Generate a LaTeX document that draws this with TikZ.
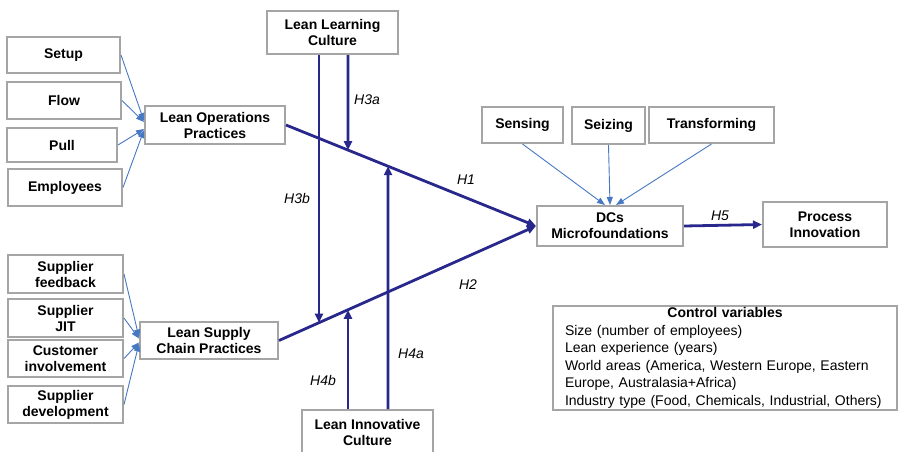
\documentclass[tikz,border=0pt]{standalone}
\usepackage{fontspec}
\setmainfont{Liberation Sans}
\usetikzlibrary{arrows.meta,calc}
\definecolor{navy}{RGB}{40,40,140}
\definecolor{boxgray}{RGB}{165,165,165}
\definecolor{thinblue}{RGB}{70,120,195}
\begin{document}
\begin{tikzpicture}[x=1pt,y=-1pt,
 box/.style={draw=boxgray, line width=2pt, fill=white, font=\fontsize{14}{16}\selectfont\bfseries, align=center, inner sep=0pt},
 main/.style={draw=navy, line width=2.8pt, -{Triangle[length=9pt,width=8pt]}},
 ind/.style={draw=thinblue, line width=0.9pt, -{Triangle[length=8pt,width=6pt]}},
 hlab/.style={font=\fontsize{14}{16}\selectfont\itshape}]
\useasboundingbox (0,0) rectangle (900,451);

% left indicator boxes (operations)
\node[box, minimum width=113pt, minimum height=36pt] (setup) at (63.5,55) {Setup};
\node[box, minimum width=114pt, minimum height=37pt] (flow) at (64,100.5) {Flow};
\node[box, minimum width=110pt, minimum height=34pt] (pull) at (62,145) {Pull};
\node[box, minimum width=114pt, minimum height=37pt] (empl) at (65,187.5) {Employees};
\node[box, minimum width=140pt, minimum height=38pt] (lop) at (215,125) {Lean Operations\\Practices};

% left indicator boxes (supply chain)
\node[box, minimum width=115pt, minimum height=38pt] (sf) at (65.5,274) {Supplier\\feedback};
\node[box, minimum width=115pt, minimum height=38pt] (sjit) at (65.5,318) {Supplier\\JIT};
\node[box, minimum width=115pt, minimum height=37pt] (ci) at (65.5,358.5) {Customer\\involvement};
\node[box, minimum width=115pt, minimum height=37pt] (sd) at (65.5,404.5) {Supplier\\development};
\node[box, minimum width=138pt, minimum height=37pt] (lscp) at (209,340.5) {Lean Supply\\Chain Practices};

% moderators
\node[box, minimum width=131pt, minimum height=43pt] (llc) at (332.5,32.5) {Lean Learning\\Culture};
\node[box, minimum width=131pt, minimum height=44pt] (lic) at (367.5,432) {Lean Innovative\\Culture};

% right side
\node[box, minimum width=146pt, minimum height=40pt] (dcs) at (610,226) {DCs\\Microfoundations};
\node[box, minimum width=124pt, minimum height=45pt] (pi) at (825,224.5) {Process\\Innovation};
\node[box, minimum width=81pt, minimum height=36pt] (sensing) at (522.5,125) {Sensing};
\node[box, minimum width=73pt, minimum height=37pt] (seizing) at (608.5,125.5) {Seizing};
\node[box, minimum width=125pt, minimum height=36pt] (transf) at (711.5,125) {Transforming};

% control variables
\node[draw=boxgray, line width=2pt, minimum width=344pt, minimum height=104pt, text width=320pt, inner xsep=12pt, inner ysep=0pt, align=left, font=\fontsize{14}{17.5}\selectfont] (ctrl) at (725,358)
 {\makebox[320pt][c]{\bfseries Control variables}\\
  Size (number of employees)\\
  Lean experience (years)\\
  World areas (America, Western Europe, Eastern\\
  Europe, Australasia+Africa)\\
  Industry type (Food, Chemicals, Industrial, Others)};

% indicator arrows
\draw[ind] (setup.east) -- ($(lop.west)+(0,-4)$);
\draw[ind] (flow.east) -- ($(lop.west)+(0,-3)$);
\draw[ind] (pull.east) -- ($(lop.west)+(0,4)$);
\draw[ind] (empl.east) -- ($(lop.west)+(0,5)$);
\draw[ind] (sf.east) -- ($(lscp.west)+(0,-3)$);
\draw[ind] (sjit.east) -- ($(lscp.west)+(0,-2)$);
\draw[ind] (ci.east) -- ($(lscp.west)+(0,2)$);
\draw[ind] (sd.east) -- ($(lscp.west)+(0,3)$);
\draw[ind] (sensing.south) -- ($(dcs.north)+(-5,0)$);
\draw[ind] (seizing.south) -- (dcs.north);
\draw[ind] (transf.south) -- ($(dcs.north)+(6,0)$);

% main paths
\draw[main] (lop.east) -- (dcs.west);
\draw[main] (lscp.east) -- (dcs.west);
\draw[main] (dcs.east) -- (pi.west);

% moderation lines
\coordinate (xb) at (319,0); \coordinate (xbb) at (319,450);
\coordinate (xa) at (348,0); \coordinate (xaa) at (348,450);
\coordinate (xc) at (388,0); \coordinate (xcc) at (388,450);
\draw[main] (llc.south -| xb) -- (intersection of lscp.east--dcs.west and xb--xbb);
\draw[main] (llc.south -| xa) -- (intersection of lop.east--dcs.west and xa--xaa);
\draw[main] (lic.north -| xa) -- (intersection of lscp.east--dcs.west and xa--xaa);
\draw[main] (lic.north -| xc) -- (intersection of lop.east--dcs.west and xc--xcc);

% labels
\node[hlab] (l3a) at (367,100) {H3a};
\node[hlab] (l3b) at (297,198) {H3b};
\node[hlab] (l1) at (466,180) {H1};
\node[hlab] (l2) at (468,285) {H2};
\node[hlab] (l4a) at (411,354) {H4a};
\node[hlab] (l4b) at (323,380) {H4b};
\node[hlab] (l5) at (720,216) {H5};
\end{tikzpicture}
\end{document}
